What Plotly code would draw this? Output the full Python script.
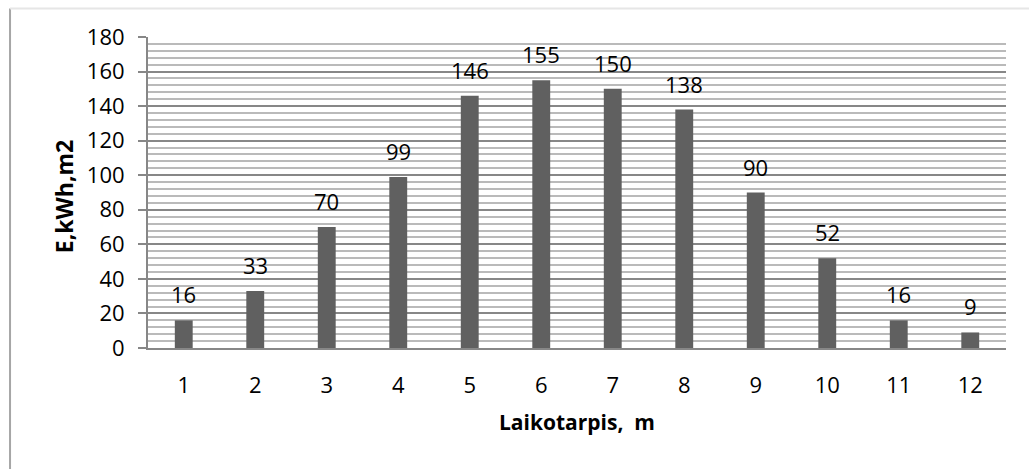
import plotly.graph_objects as go

categories = ["1", "2", "3", "4", "5", "6", "7", "8", "9", "10", "11", "12"]
values = [16, 33, 70, 99, 146, 155, 150, 138, 90, 52, 16, 9]
x_title = "Laikotarpis,  m"
y_title = "E,kWh,m2"

FONT = "Open Sans"
GRID = "#878787"
MINOR = "#bababa"

fig = go.Figure(go.Bar(x=categories, y=values, marker=dict(color="#606060", line=dict(width=0))))

annotations = [
    dict(x=i, y=v, text=str(v), showarrow=False, xanchor="center", yanchor="middle",
         yshift=26, font=dict(family=FONT, size=22, color="#000000"))
    for i, v in enumerate(values)
]
annotations.append(dict(x=0.5, y=-0.239, xref="paper", yref="paper", text="<b>%s</b>" % x_title,
                        showarrow=False, xanchor="center", yanchor="middle",
                        font=dict(family=FONT, size=21, color="#000000")))
annotations.append(dict(x=-0.0979, y=0.485, xref="paper", yref="paper", text="<b>%s</b>" % y_title,
                        textangle=-90, showarrow=False, xanchor="center", yanchor="middle",
                        font=dict(family=FONT, size=23, color="#000000")))

fig.update_layout(
    width=1029, height=469,
    margin=dict(l=148, r=23, t=37, b=121),
    paper_bgcolor="white", plot_bgcolor="white",
    bargap=0.75, showlegend=False,
    annotations=annotations,
    shapes=[
        dict(type="line", xref="paper", yref="paper", x0=-0.1608, x1=-0.1608, y0=1.0915, y1=-0.6,
             line=dict(color="#a6a6a6", width=2)),
        dict(type="line", xref="paper", yref="paper", x0=-0.1608, x1=1.2, y0=1.0915, y1=1.0915,
             line=dict(color="#e6e6e6", width=2)),
    ],
)
fig.update_xaxes(
    type="category", showline=True, linecolor=GRID, linewidth=2, showgrid=False,
    ticks="", ticklabelstandoff=17,
    tickfont=dict(family=FONT, size=22, color="#000000"),
)
fig.update_yaxes(
    range=[0, 180], dtick=20, showline=True, linecolor=GRID, linewidth=2,
    showgrid=True, gridcolor=GRID, gridwidth=2, zeroline=False,
    ticks="outside", ticklen=8, tickcolor=GRID, tickwidth=2, ticklabelstandoff=9,
    minor=dict(dtick=4, showgrid=True, gridcolor=MINOR, gridwidth=2, ticks=""),
    tickfont=dict(family=FONT, size=22, color="#000000"),
)

fig.write_html("out.html")
